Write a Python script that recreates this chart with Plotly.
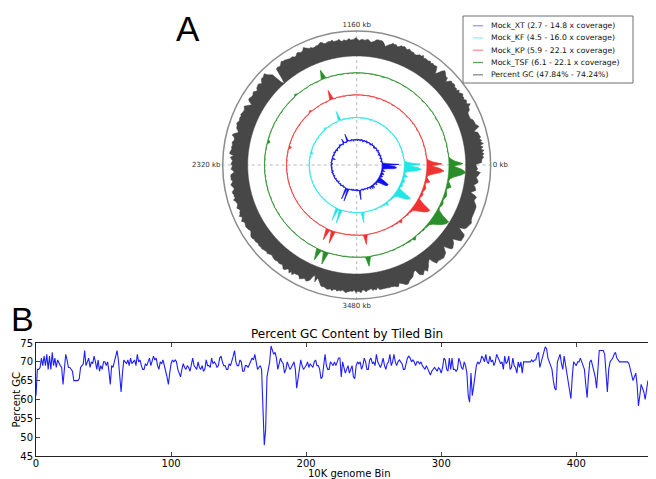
import numpy as np
import plotly.graph_objects as go

# ---------------- data ----------------
GENOME_KB = 4640
GC_BIN_KB = 10
COV_BIN_KB = 20
kb_ticks = [0, 1160, 2320, 3480]
x_ticks = [0, 100, 200, 300, 400]
y_ticks = [45, 50, 55, 60, 65, 70, 75]
samples = ["Mock_XT", "Mock_KF", "Mock_KP", "Mock_TSF"]
cov_min = [2.7, 4.5, 5.9, 6.1]
cov_max = [14.8, 16.0, 22.1, 22.1]
gc_range = [47.84, 74.24]

gc = [
    61, 68, 68, 68.5, 71, 69, 71.5, 69, 72, 68,
    71.5, 68, 72.5, 69, 71, 68.5, 70.5, 69.5, 69, 68.5,
    64, 68, 72, 70.5, 68.5, 68.5, 68, 67.5, 65, 65,
    65, 65, 65.5, 68.5, 69, 69.5, 73, 69, 70, 71,
    68.5, 70, 69.5, 71.5, 70, 68, 70.5, 67.5, 69, 68,
    70, 70, 69, 70, 67.5, 64, 69, 68.5, 70, 72,
    73, 70.5, 66, 62, 67, 70.5, 70, 69.5, 70.5, 69,
    71, 69.5, 70, 70.5, 69, 72, 70, 70.5, 69, 68,
    68, 69.5, 69, 70, 71, 69, 70, 71.5, 70.5, 71,
    69, 68, 70, 69.5, 70.5, 68.5, 67.5, 66, 64, 67,
    69.5, 70.5, 70, 70.5, 70, 68, 67, 66, 68, 69.5,
    68.5, 68, 69, 68.5, 67.5, 69, 71, 69, 68.5, 68,
    70, 68.5, 68, 69, 67.5, 68, 70.5, 69, 69, 68.5,
    71, 69.5, 70, 69.5, 68.5, 69, 71, 71.5, 70, 69,
    69, 68, 68, 69.5, 69, 70, 71.5, 73, 70, 69,
    69, 70.5, 70, 67.5, 67.5, 69, 69, 68.5, 69.5, 70,
    71, 70.5, 72, 70, 68, 68.5, 69, 68, 56, 47.9,
    52, 66, 68, 70, 74.2, 73, 72, 72.5, 71, 68,
    70, 71, 70, 69.5, 67, 68, 70, 69, 68, 68.5,
    69.5, 70, 68, 63, 65.5, 68, 70.5, 69, 68, 68.5,
    69, 70, 68.5, 69.5, 69, 68.5, 70, 70.5, 69, 69,
    68, 65.5, 66, 70, 72, 69, 68, 68, 70, 69.5,
    69, 70, 69, 70, 71, 71, 66, 70, 68.5, 67,
    68, 69, 67, 68, 69, 66, 65.5, 69, 70, 69.5,
    70, 68, 69, 71, 70, 68, 68, 70.5, 71, 69.5,
    70, 69, 72, 70, 69, 68.5, 69.5, 71, 69, 68,
    69.5, 70, 72, 69, 70, 72, 70, 69, 70, 70.5,
    70, 69.5, 68, 68, 69.5, 71, 71.5, 71, 70, 70.5,
    70, 69, 70, 70, 69.5, 70, 69, 68.5, 68, 69,
    68, 67, 66.5, 67.5, 68, 68.5, 68, 67.5, 68.5, 68,
    67, 68.5, 71, 70.5, 68, 67.5, 71, 68, 71, 68,
    68, 67.5, 68, 71, 70, 68.5, 68, 70, 69, 67,
    61, 59.3, 67, 61, 63.5, 66, 69, 70, 69.5, 70,
    71.5, 71, 70, 72, 70, 69.5, 71.5, 70, 70.5, 69,
    70, 72, 71, 70, 69.5, 70, 68, 71.5, 69.5, 70,
    71.5, 68, 68.5, 71, 69, 68.5, 67, 70, 68.5, 70,
    67, 70, 70, 70, 70, 70, 70, 70.5, 70, 70.5,
    70.5, 72, 72.5, 68.5, 70, 71, 73, 74, 73.5, 71,
    70, 69, 68, 65, 63, 62.5, 70, 71, 72, 69.5,
    68, 71.5, 69, 67, 64, 62, 60.2, 66, 70, 69.5,
    69, 70, 70, 71, 70, 69, 68, 64, 60.5, 66,
    70, 70.5, 69, 68, 66, 63, 68, 73, 73, 73,
    73, 72, 66, 62, 68, 70, 70.5, 71, 72, 72.5,
    71, 70.5, 70, 70, 70, 70, 70, 70, 70, 69.5,
    68, 66, 65, 66, 67, 64, 58.3, 61, 64, 63,
    62, 60, 63, 65, 64.5, 63, 62, 64, 65, 66.7,
    61, 63, 62, 61,
]

cov_xt = [
    14.8, 8.2, 5.7, 4.6, 5.1, 3.9, 4.8, 4.2, 5.3, 4.5, 3.8, 4.9, 4.4, 5.2, 4.0, 4.7, 3.6, 5.0, 4.3, 4.8,
    4.1, 5.4, 4.5, 3.9, 4.9, 4.6, 5.2, 4.0, 4.7, 3.7, 5.1, 4.4, 4.8, 4.2, 5.5, 4.3, 3.8, 4.9, 4.5, 5.0,
    4.2, 4.8, 3.9, 5.3, 4.6, 4.1, 5.0, 4.4, 3.7, 4.9, 4.5, 5.2, 4.0, 4.7, 4.3, 5.1, 3.9, 4.8, 4.6, 4.2,
    5.0, 4.4, 3.8, 4.9, 4.5, 5.3, 4.1, 4.7, 4.3, 5.0, 5.2, 9.3, 5.0, 4.2, 4.8, 4.4, 5.1, 7.5, 4.6, 4.0,
    4.9, 4.3, 5.2, 4.5, 5.7, 4.1, 4.8, 3.9, 4.6, 5.0, 4.2, 4.7, 3.6, 5.1, 4.4, 4.9, 4.0, 5.3, 4.5, 4.2,
    4.8, 3.9, 4.6, 5.1, 4.3, 4.7, 2.7, 4.5, 5.0, 4.2, 4.8, 4.4, 5.2, 3.9, 4.6, 4.1, 5.0, 4.5, 4.3, 4.9,
    4.0, 5.1, 4.6, 4.2, 4.8, 3.8, 5.3, 4.4, 4.7, 4.1, 5.0, 4.5, 3.9, 4.9, 4.3, 5.2, 4.6, 4.0, 4.8, 4.4,
    5.1, 4.2, 4.7, 3.7, 4.9, 4.5, 5.0, 4.1, 4.6, 5.4, 4.3, 4.8, 4.0, 4.6, 5.1, 4.4, 4.7, 5.2, 11.8, 5.5,
    5.6, 12.4, 5.3, 4.5, 4.9, 4.2, 4.7, 5.1, 4.0, 4.8, 4.4, 5.0, 4.3, 4.7, 3.9, 5.2, 4.6, 5.0, 10.5, 5.1,
    4.4, 4.9, 4.1, 5.3, 4.6, 4.2, 5.0, 4.5, 4.8, 5.6, 4.3, 5.2, 4.7, 6.4, 4.9, 5.5, 6.9, 5.0, 6.9, 5.4,
    4.8, 5.6, 5.1, 6.6, 5.3, 5.8, 5.7, 6.9, 9.3, 11.2, 11.8, 11.8, 8.7, 5.7, 5.2, 6.3, 6.6, 5.4, 5.9, 6.8,
    6.3, 5.5, 5.0, 6.9, 6.3, 5.4, 5.7, 8.1, 12.4, 13.6, 12.4, 7.5,
]
cov_kf = [
    15.0, 9.3, 6.9, 5.9, 6.2, 5.6, 5.9, 5.5, 6.1, 5.8, 5.4, 6.0, 5.7, 6.2, 5.5, 5.9, 5.6, 6.1, 5.8, 5.5,
    6.0, 5.7, 6.3, 5.5, 5.9, 5.6, 6.1, 5.8, 5.4, 6.0, 5.7, 5.9, 5.5, 6.2, 5.8, 5.6, 6.0, 5.7, 5.5, 6.1,
    5.8, 5.6, 6.0, 5.5, 5.9, 6.2, 5.7, 5.4, 6.0, 5.8, 5.6, 6.1, 5.7, 5.9, 5.5, 6.0, 5.8, 5.6, 6.1, 5.7,
    5.9, 5.5, 6.0, 5.8, 5.6, 6.2, 5.7, 5.9, 6.4, 5.6, 6.0, 11.6, 6.2, 5.8, 5.5, 6.0, 5.7, 6.3, 5.9, 5.6,
    6.0, 5.7, 5.9, 6.2, 7.0, 5.8, 5.5, 6.0, 5.7, 5.9, 5.6, 6.1, 5.8, 5.4, 6.0, 5.7, 5.9, 5.5, 6.2, 5.8,
    5.6, 6.0, 5.7, 5.9, 5.5, 6.1, 4.5, 5.8, 6.0, 5.6, 5.9, 5.7, 6.2, 5.5, 5.8, 6.0, 5.6, 5.9, 5.7, 6.1,
    5.5, 5.9, 5.7, 6.0, 5.8, 5.6, 6.1, 5.7, 5.9, 5.5, 6.0, 5.8, 5.6, 6.2, 5.7, 5.9, 5.5, 6.0, 5.8, 5.6,
    6.1, 5.7, 5.9, 5.6, 6.0, 5.8, 5.5, 6.1, 5.7, 6.0, 5.8, 5.6, 5.9, 6.2, 5.7, 6.0, 5.8, 6.3, 13.3, 6.6,
    6.9, 13.9, 6.4, 5.9, 6.1, 5.7, 6.0, 5.8, 6.2, 5.6, 5.9, 6.1, 5.7, 6.0, 5.8, 6.2, 5.9, 6.3, 12.1, 6.5,
    6.0, 5.8, 6.2, 5.9, 6.4, 6.0, 6.3, 5.9, 6.2, 6.6, 6.0, 6.4, 6.1, 6.8, 6.3, 6.6, 6.9, 6.4, 8.1, 6.5,
    6.2, 6.8, 6.4, 7.0, 6.6, 7.2, 7.0, 8.1, 10.4, 12.7, 14.4, 15.0, 9.8, 7.0, 6.6, 7.4, 7.6, 6.8, 7.1, 7.8,
    7.5, 6.9, 6.7, 8.7, 7.5, 6.8, 7.0, 9.3, 13.3, 16.0, 13.9, 8.7,
]
cov_kp = [
    20.0, 12.8, 9.5, 8.0, 8.3, 7.6, 8.1, 7.7, 8.4, 7.9, 7.5, 8.2, 7.8, 8.3, 7.6, 8.0, 7.7, 8.2, 7.9, 7.5,
    8.1, 7.8, 8.4, 7.6, 8.0, 7.7, 8.2, 7.9, 7.5, 8.1, 7.8, 8.0, 7.6, 8.3, 7.9, 7.7, 8.1, 7.8, 7.6, 8.2,
    7.9, 7.7, 8.1, 7.6, 8.0, 8.3, 7.8, 7.5, 8.1, 7.9, 7.7, 8.2, 7.8, 8.0, 7.6, 8.1, 7.9, 7.7, 8.2, 7.8,
    8.0, 7.6, 8.1, 7.9, 7.7, 8.3, 7.8, 8.0, 8.5, 7.7, 8.2, 16.0, 8.4, 7.9, 7.6, 8.1, 7.8, 8.4, 8.0, 7.7,
    8.1, 7.8, 8.0, 8.3, 9.5, 7.9, 7.6, 8.1, 7.8, 8.0, 7.7, 8.2, 7.9, 7.5, 8.1, 7.8, 8.0, 7.6, 8.3, 7.9,
    7.7, 8.1, 7.8, 8.0, 7.6, 8.2, 5.9, 7.9, 8.1, 7.7, 8.0, 7.8, 8.3, 7.6, 7.9, 8.1, 7.7, 8.0, 7.8, 8.2,
    7.6, 8.0, 7.8, 8.1, 7.9, 7.7, 8.2, 7.8, 8.0, 7.6, 8.1, 7.9, 7.7, 8.3, 7.8, 8.0, 7.6, 8.1, 7.9, 7.7,
    8.2, 7.8, 8.0, 7.7, 8.1, 7.9, 7.6, 8.2, 7.8, 8.1, 7.9, 7.7, 8.0, 8.3, 7.8, 8.1, 7.9, 8.4, 17.6, 8.8,
    9.0, 18.4, 8.5, 8.0, 8.2, 7.8, 8.1, 7.9, 8.3, 7.7, 8.0, 8.2, 7.8, 8.1, 7.9, 8.3, 8.0, 8.4, 16.0, 8.6,
    8.1, 7.9, 8.3, 8.0, 8.5, 8.1, 8.4, 8.0, 8.3, 8.7, 8.1, 8.5, 8.2, 8.9, 8.4, 8.7, 9.1, 8.5, 10.5, 8.6,
    8.3, 8.9, 8.5, 9.2, 8.7, 9.4, 9.5, 11.2, 14.4, 17.6, 20.0, 20.9, 13.6, 9.5, 8.8, 9.8, 10.0, 9.0, 9.4, 10.3,
    9.9, 9.1, 8.9, 12.0, 10.4, 9.0, 9.5, 12.8, 18.4, 22.1, 18.4, 12.0,
]
cov_tsf = [
    19.3, 12.9, 9.7, 8.2, 8.5, 7.8, 8.3, 7.9, 8.6, 8.1, 7.7, 8.4, 8.0, 8.5, 7.8, 8.2, 7.9, 8.4, 8.1, 7.7,
    8.3, 8.0, 8.6, 7.8, 8.2, 7.9, 8.4, 8.1, 7.7, 8.3, 8.0, 8.2, 7.8, 8.5, 8.1, 7.9, 8.3, 8.0, 7.8, 8.4,
    8.1, 7.9, 8.3, 7.8, 8.2, 8.5, 8.0, 7.7, 8.3, 8.1, 7.9, 8.4, 8.0, 8.2, 7.8, 8.3, 8.1, 7.9, 8.4, 8.0,
    8.2, 7.8, 8.3, 8.1, 7.9, 8.5, 8.0, 8.2, 8.7, 7.9, 8.4, 15.7, 8.6, 8.1, 7.8, 8.3, 8.0, 8.6, 8.2, 7.9,
    8.3, 8.0, 8.2, 8.5, 9.7, 8.1, 7.8, 8.3, 8.0, 8.2, 7.9, 8.4, 8.1, 7.7, 8.3, 8.0, 8.2, 7.8, 8.5, 8.1,
    7.9, 8.3, 8.0, 8.2, 7.8, 8.4, 6.1, 8.1, 8.3, 7.9, 8.2, 8.0, 8.5, 7.8, 8.1, 8.3, 7.9, 8.2, 8.0, 8.4,
    7.8, 8.2, 8.0, 8.3, 8.1, 7.9, 8.4, 8.0, 8.2, 7.8, 8.3, 8.1, 7.9, 8.5, 8.0, 8.2, 7.8, 8.3, 8.1, 7.9,
    8.4, 8.0, 8.2, 7.9, 8.3, 8.1, 7.8, 8.4, 8.0, 8.3, 8.1, 7.9, 8.2, 8.5, 8.0, 8.3, 8.1, 8.6, 17.7, 9.0,
    9.2, 18.5, 8.7, 8.2, 8.4, 8.0, 8.3, 8.1, 8.5, 7.9, 8.2, 8.4, 8.0, 8.3, 8.1, 8.5, 8.2, 8.6, 16.1, 8.8,
    8.3, 8.1, 8.5, 8.2, 8.7, 8.3, 8.6, 8.2, 8.5, 8.9, 8.3, 8.7, 8.4, 9.1, 8.6, 8.9, 9.3, 8.7, 10.7, 8.8,
    8.5, 9.1, 8.7, 9.4, 8.9, 9.6, 9.7, 11.3, 14.5, 17.7, 20.1, 21.0, 13.7, 9.7, 9.0, 10.0, 10.2, 9.2, 9.6, 10.5,
    10.1, 9.3, 9.1, 12.1, 10.5, 9.2, 9.7, 12.9, 18.5, 22.1, 18.5, 12.1,
]
coverage = [cov_xt, cov_kf, cov_kp, cov_tsf]

# ---------------- style / geometry ----------------
PAGE_W, PAGE_H = 656, 479
OFF = 8                      # default body margin of the html page
W, H = PAGE_W - OFF, PAGE_H - OFF
FONT = "DejaVu Sans"


def xp(px):
    return (px - OFF) / W


def yp(py):
    return 1 - (py - OFF) / H


track_colors = ["#1010ee", "#22e6e6", "#f03232", "#2a8f2a"]
legend_colors = ["#9a9aff", "#8af5f5", "#ff9090", "#5fa55f", "#8a8a8a"]
gc_color = "#474747"
track_r_lo = [22.0, 45.0, 67.5, 89.5]
TRACK_H = 20.0
GC_R_IN = 109.0
GC_H = 21.0
R_MAX = 134.0
cx, cy = 356.7, 165.0

fig = go.Figure()

# GC ring
gc_arr = np.array(gc, dtype=float)
n_gc = len(gc_arr)
th_gc = (np.arange(n_gc) + 0.5) * GC_BIN_KB / GENOME_KB * 360.0
r_gc = GC_R_IN + (gc_arr - gc_range[0]) / (gc_range[1] - gc_range[0]) * GC_H
th_in = np.linspace(360, 0, 721)
fig.add_trace(go.Scatterpolar(
    r=list(r_gc) + [r_gc[0]] + [GC_R_IN] * len(th_in),
    theta=list(th_gc) + [th_gc[0] + 360] + list(th_in),
    mode="lines", fill="toself", fillcolor=gc_color,
    line=dict(color=gc_color, width=0.5), showlegend=False, hoverinfo="skip",
    subplot="polar"))

# coverage tracks
for i, cov in enumerate(coverage):
    c = np.array(cov, dtype=float)
    n = len(c)
    th = (np.arange(n) + 0.5) * COV_BIN_KB / GENOME_KB * 360.0
    scale = TRACK_H / (cov_max[i] - cov_min[i])
    r = track_r_lo[i] + (c - cov_min[i]) * scale
    base = track_r_lo[i] + (np.median(c) - cov_min[i]) * scale
    fig.add_trace(go.Scatterpolar(
        r=list(r) + [r[0]] + [base] * len(th_in),
        theta=list(th) + [th[0] + 360] + list(th_in),
        mode="lines", fill="toself", fillcolor=track_colors[i],
        line=dict(color=track_colors[i], width=0.7), showlegend=False,
        hoverinfo="skip", subplot="polar"))

# panel B line
fig.add_trace(go.Scatter(x=list(range(len(gc))), y=gc, mode="lines",
                         line=dict(color="#1f1fff", width=1.1),
                         showlegend=False, xaxis="x", yaxis="y", hoverinfo="skip"))

# legend (manual, to match compact matplotlib spacing)
labels = [f"{s} ({lo} - {hi} x coverage)" for s, lo, hi in zip(samples, cov_min, cov_max)]
labels.append(f"Percent GC ({gc_range[0]:.2f}% - {gc_range[1]:.2f}%)")
leg_rows = [25.7, 37.9, 50.2, 62.5, 74.8]
shapes = [dict(type="rect", xref="paper", yref="paper",
               x0=xp(463), x1=xp(633), y0=yp(83), y1=yp(16),
               line=dict(color="#6e6e6e", width=1), fillcolor="white", layer="above")]
annotations = []
for lab, col, yy in zip(labels, legend_colors, leg_rows):
    shapes.append(dict(type="line", xref="paper", yref="paper",
                       x0=xp(473), x1=xp(483), y0=yp(yy), y1=yp(yy),
                       line=dict(color=col, width=1.3), layer="above"))
    annotations.append(dict(text=lab, x=xp(489), y=yp(yy), xref="paper", yref="paper",
                            xanchor="left", yanchor="middle", showarrow=False,
                            font=dict(size=7.7, family=FONT, color="#111")))

theta_ticks = [k / GENOME_KB * 360.0 for k in kb_ticks]

annotations += [
    dict(text="A", x=xp(188), y=yp(29), xref="paper", yref="paper",
         xanchor="center", yanchor="middle", showarrow=False,
         font=dict(size=35, family="Liberation Sans", color="#000")),
    dict(text="B", x=xp(22), y=yp(319), xref="paper", yref="paper",
         xanchor="center", yanchor="middle", showarrow=False,
         font=dict(size=34, family="Liberation Sans", color="#000")),
    dict(text="Percent GC Content by Tiled Bin", x=xp(347), y=yp(343),
         xref="paper", yref="paper", xanchor="center", yanchor="bottom", showarrow=False,
         font=dict(size=12, family=FONT)),
    dict(text="10K genome Bin", x=xp(349), y=yp(473.5), xref="paper", yref="paper",
         xanchor="center", yanchor="middle", showarrow=False, font=dict(size=10, family=FONT)),
    dict(text="Percent GC", x=xp(15.5), y=yp(400), xref="paper", yref="paper",
         xanchor="center", yanchor="middle",
         textangle=-90, showarrow=False, font=dict(size=10, family=FONT)),
]

fig.update_layout(
    template="none",
    width=W, height=H,
    margin=dict(l=0, r=0, t=0, b=0, pad=0, autoexpand=False),
    paper_bgcolor="white", plot_bgcolor="white",
    font=dict(family=FONT, color="#000"),
    showlegend=False,
    polar=dict(
        domain=dict(x=[xp(cx - R_MAX), xp(cx + R_MAX)],
                    y=[yp(cy + R_MAX), yp(cy - R_MAX)]),
        bgcolor="white",
        radialaxis=dict(range=[0, R_MAX], visible=False, showgrid=False),
        angularaxis=dict(rotation=0, direction="counterclockwise",
                         tickmode="array", tickvals=theta_ticks,
                         ticktext=[f"{k} kb" for k in kb_ticks],
                         ticks="", showline=True, linecolor="#8c8c8c", linewidth=1.5,
                         showgrid=True, gridcolor="#b8b8b8", griddash="dot", gridwidth=1,
                         tickfont=dict(size=7, color="#333", family=FONT)),
    ),
    xaxis=dict(domain=[xp(36), 1.0], range=[0, 459], tickmode="array", tickvals=x_ticks,
               ticks="inside", ticklen=4, mirror="ticks", showline=True, automargin=False,
               ticklabelstandoff=-2,
               linecolor="#222", linewidth=1, showgrid=False, zeroline=False,
               tickfont=dict(size=10, family=FONT), anchor="y"),
    yaxis=dict(domain=[yp(456), yp(343)], range=[45, 75], tickmode="array",
               tickvals=y_ticks, ticks="inside", ticklen=4, mirror="ticks", showline=True,
               automargin=False,
               linecolor="#222", linewidth=1, showgrid=False, zeroline=False,
               tickfont=dict(size=10, family=FONT), anchor="x"),
    shapes=shapes,
    annotations=annotations,
    hovermode=False,
)

fig.write_html("out.html")
